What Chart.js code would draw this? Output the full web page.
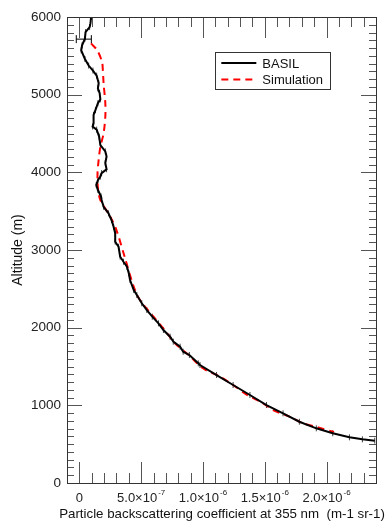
<!DOCTYPE html>
<html>
<head>
<meta charset="utf-8">
<script src="https://cdn.jsdelivr.net/npm/chart.js@4.4.0/dist/chart.umd.min.js"></script>
<style>
  html, body { margin: 0; padding: 0; background: #fff; }
  #wrap { width: 388px; height: 522px; position: relative; }
</style>
</head>
<body>
<div id="wrap"><canvas id="chart1"></canvas></div>
<script>
// BASIL lidar profile (coefficient in units of 1e-6 m-1 sr-1)
var basilAlt  = [6000, 5920, 5870, 5806, 5720, 5635, 5570, 5460, 5375, 5310, 5245, 5150, 5080, 5020, 4940,
                 4890, 4800, 4740, 4630, 4590, 4550, 4460, 4350, 4270, 4205, 4120, 4040, 3990, 3945, 3900,
                 3837, 3772, 3690, 3644, 3557, 3472, 3386, 3300, 3215, 3107, 3042, 2914, 2849, 2785, 2700,
                 2614, 2485, 2420, 2314, 2227, 2141, 2056, 1970, 1884, 1820, 1755, 1690, 1648, 1541, 1519,
                 1390, 1262, 1133, 1004, 897, 789, 704, 640, 588, 562, 545];
var basilCoef = [0.095, 0.09, 0.083, 0.05, 0.045, 0.022, 0.015, 0.045, 0.075, 0.11, 0.14, 0.156, 0.15, 0.164, 0.17,
                 0.15, 0.13, 0.115, 0.115, 0.107, 0.14, 0.16, 0.17, 0.21, 0.22, 0.21, 0.22, 0.18, 0.17, 0.15,
                 0.137, 0.15, 0.175, 0.18, 0.196, 0.236, 0.26, 0.277, 0.29, 0.29, 0.317, 0.33, 0.357, 0.385, 0.40,
                 0.41, 0.44, 0.465, 0.505, 0.546, 0.59, 0.64, 0.68, 0.734, 0.76, 0.815, 0.84, 0.89, 0.962, 0.976,
                 1.11, 1.244, 1.38, 1.514, 1.648, 1.78, 1.917, 2.05, 2.185, 2.29, 2.39];

// model simulation
var simAlt  = [5660, 5575, 5425, 5317, 5146, 4890, 4716, 4502, 4330, 4159, 3987, 3800, 3644, 3429, 3257,
               2893, 2527, 2356, 2141, 1970, 1799, 1648, 1477, 1369, 1262, 1142, 1026, 940, 854, 769, 712, 657];
var simCoef = [0.094, 0.143, 0.183, 0.19, 0.196, 0.21, 0.21, 0.196, 0.17, 0.156, 0.147, 0.15, 0.17, 0.25, 0.30,
               0.37, 0.44, 0.49, 0.60, 0.69, 0.774, 0.885, 1.0, 1.137, 1.244, 1.35, 1.486, 1.567, 1.70, 1.81, 1.94, 2.06];

// single error bar near the top
var errAlt  = [5715, 5715];
var errCoef = [-0.025, 0.097];

// axes
var xTickVals   = [0, 0.5, 1.0, 1.5, 2.0];
var xTickBase   = ['0', '5.0\u00d710', '1.0\u00d710', '1.5\u00d710', '2.0\u00d710'];
var xTickExp    = ['', '-7', '-6', '-6', '-6'];
var yTickVals   = [0, 1000, 2000, 3000, 4000, 5000, 6000];
var xTitle      = 'Particle backscattering coefficient at 355 nm  (m-1 sr-1)';

var seriesNames = ['BASIL', 'Simulation'];

function pts(xs, ys) {
  return xs.map(function(v, i) { return { x: v, y: ys[i] }; });
}

var fontFam = '"Liberation Sans", Arial, Helvetica, sans-serif';

// frame, inward ticks on all four sides, x labels with superscripts, legend box
var axesPlugin = {
  id: 'axesPlugin',
  afterDraw: function(chart) {
    var ctx = chart.ctx;
    var a = chart.chartArea;
    var xs = chart.scales.x, ys = chart.scales.y;
    ctx.save();
    ctx.strokeStyle = '#555';
    ctx.lineWidth = 1;
    // x ticks every 0.1, major every 0.5
    for (var i = -1; i <= 24; i++) {
      var px = Math.round(xs.getPixelForValue(i / 10)) + 0.5;
      var len = (i % 5 === 0) ? 21 : 10;
      ctx.beginPath();
      ctx.moveTo(px, a.bottom); ctx.lineTo(px, a.bottom - len);
      ctx.moveTo(px, a.top); ctx.lineTo(px, a.top + len);
      ctx.stroke();
    }
    // y ticks every 100, major every 1000
    for (var j = 0; j <= 60; j++) {
      var py = Math.round(ys.getPixelForValue(j * 100)) + 0.5;
      var ylen = (j % 10 === 0) ? 15 : 7;
      ctx.beginPath();
      ctx.moveTo(a.left, py); ctx.lineTo(a.left + ylen, py);
      ctx.moveTo(a.right, py); ctx.lineTo(a.right - ylen, py);
      ctx.stroke();
    }
    ctx.strokeStyle = '#333';
    ctx.strokeRect(Math.round(a.left) + 0.5, Math.round(a.top) + 0.5,
                   Math.round(a.right - a.left), Math.round(a.bottom - a.top));

    // x tick labels
    ctx.fillStyle = '#222';
    ctx.textBaseline = 'alphabetic';
    xTickVals.forEach(function(v, k) {
      var cx = xs.getPixelForValue(v);
      ctx.font = '13px ' + fontFam;
      var w1 = ctx.measureText(xTickBase[k]).width;
      ctx.font = '8px ' + fontFam;
      var w2 = xTickExp[k] ? ctx.measureText(xTickExp[k]).width + 1 : 0;
      var x0 = cx - (w1 + w2) / 2;
      if (!xTickExp[k]) x0 = cx - w1 / 2;
      ctx.font = '13px ' + fontFam;
      ctx.textAlign = 'left';
      ctx.fillText(xTickBase[k], x0, 502);
      if (xTickExp[k]) {
        ctx.font = '8px ' + fontFam;
        ctx.fillText(xTickExp[k], x0 + w1 + 1, 495);
      }
    });

    // x axis title (wider than the plot, so drawn here)
    ctx.fillStyle = '#111';
    ctx.font = '13.3px ' + fontFam;
    ctx.textAlign = 'center';
    ctx.fillText(xTitle, 222, 518);

    // legend
    var lx = xs.getPixelForValue(1.1), ly = ys.getPixelForValue(5550);
    ctx.strokeStyle = '#333';
    ctx.strokeRect(Math.round(lx) + 0.5, Math.round(ly) + 0.5, 115, 37);
    ctx.font = '13px ' + fontFam;
    ctx.textAlign = 'left';
    ctx.textBaseline = 'middle';
    chart.data.datasets.forEach(function(ds, k) {
      if (k > 1) return;
      var yy = Math.round(ly) + 11 + k * 16.5;
      ctx.save();
      ctx.strokeStyle = ds.borderColor;
      ctx.lineWidth = 2;
      ctx.setLineDash(ds.borderDash || []);
      ctx.beginPath();
      ctx.moveTo(lx + 6, yy); ctx.lineTo(lx + 41, yy);
      ctx.stroke();
      ctx.restore();
      ctx.fillStyle = '#111';
      ctx.fillText(ds.label, lx + 47, yy + 1);
    });
    ctx.restore();
  }
};

var ctx = document.getElementById('chart1').getContext('2d');

var myChart = new Chart(ctx, {
  type: 'scatter',
  data: {
    datasets: [{
      label: seriesNames[0],
      data: pts(basilCoef, basilAlt),
      showLine: true,
      borderColor: '#000',
      borderWidth: 2,
      pointRadius: 0,
      tension: 0,
      order: 1
    }, {
      label: seriesNames[1],
      data: pts(simCoef, simAlt),
      showLine: true,
      borderColor: '#ff0000',
      borderWidth: 2,
      borderDash: [7, 5],
      pointRadius: 0,
      tension: 0.3,
      order: 2
    }, {
      label: 'err',
      data: pts(basilCoef, basilAlt),
      showLine: false,
      pointStyle: 'line',
      rotation: 90,
      pointRadius: 3,
      borderColor: '#444',
      borderWidth: 1,
      order: 3
    }, {
      label: 'bar',
      data: pts(errCoef, errAlt),
      showLine: true,
      pointStyle: 'line',
      rotation: 90,
      pointRadius: 4,
      borderColor: '#000',
      borderWidth: 1,
      order: 0
    }]
  },
  options: {
    animation: false,
    responsive: true,
    maintainAspectRatio: false,
    layout: { padding: { left: 0, right: 12, top: 17, bottom: 0 } },
    plugins: {
      legend: { display: false },
      tooltip: { enabled: false }
    },
    scales: {
      x: {
        type: 'linear',
        min: -0.1,
        max: 2.4,
        grid: { display: false, drawTicks: false },
        border: { display: false },
        ticks: { display: false },
        title: { display: false },
        afterFit: function(s) { s.height = 39; }
      },
      y: {
        type: 'linear',
        min: 0,
        max: 6000,
        afterBuildTicks: function(s) {
          s.ticks = yTickVals.map(function(v) { return { value: v }; });
        },
        grid: { display: false, drawTicks: false },
        border: { display: false },
        ticks: {
          color: '#222',
          padding: 6,
          font: { family: fontFam, size: 13.5 },
          callback: function(v) { return String(v); }
        },
        title: {
          display: true,
          text: 'Altitude (m)',
          color: '#111',
          font: { family: fontFam, size: 14 },
          padding: { top: 10, bottom: 0 }
        },
        afterFit: function(s) { s.width = 67; }
      }
    }
  },
  plugins: [axesPlugin]
});
</script>
</body>
</html>
